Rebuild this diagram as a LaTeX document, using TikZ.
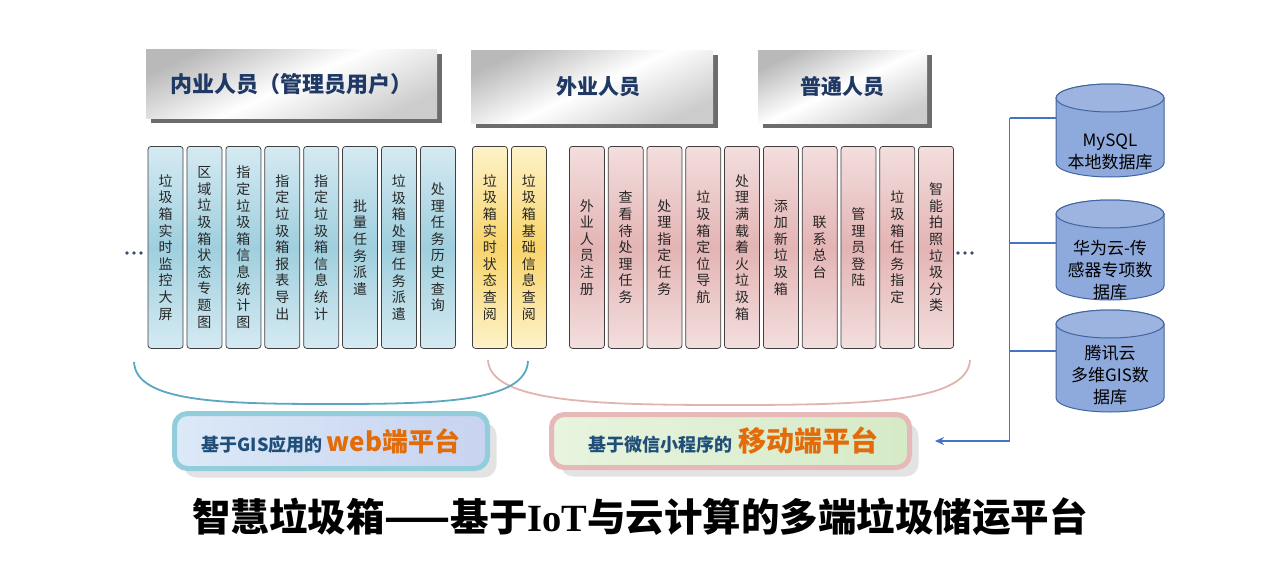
\documentclass[tikz,border=0pt]{standalone}
\usepackage{fontspec}
\setmainfont{Noto Sans CJK SC}
\newfontfamily\iotfont{Liberation Serif}
\usetikzlibrary{arrows.meta,shadows}
\definecolor{hdrtext}{HTML}{1F3864}
\definecolor{cbA}{HTML}{D5EAF2}
\definecolor{cbB}{HTML}{9FCFDE}
\definecolor{cyA}{HTML}{FDF2C8}
\definecolor{cyB}{HTML}{F8D46A}
\definecolor{cpA}{HTML}{F3DEDE}
\definecolor{cpB}{HTML}{E4B4B4}
\definecolor{arcblue}{HTML}{5BA6C0}
\definecolor{arcpink}{HTML}{E2B4B0}
\definecolor{webborder}{HTML}{92CDDC}
\definecolor{webA}{HTML}{DCE9F7}
\definecolor{webB}{HTML}{C7D3F0}
\definecolor{mobborder}{HTML}{E6B9B8}
\definecolor{mobA}{HTML}{E8F4DF}
\definecolor{mobB}{HTML}{D5EAC6}
\definecolor{navytxt}{HTML}{1F4E79}
\definecolor{orangetxt}{HTML}{E36C0A}
\definecolor{dbfill}{HTML}{8EA9DB}
\definecolor{dbtopfill}{HTML}{9DB4E0}
\definecolor{dbline}{HTML}{41659F}
\definecolor{connblue}{HTML}{4472C4}
\definecolor{dotc}{HTML}{3F4B6E}
\newcommand\mydb[4]{%
  \path[dbbody] (#2-54,#3+14) -- (#2-54,#4-14) arc[start angle=180,end angle=360,x radius=54pt,y radius=14pt] -- (#2+54,#3+14) arc[start angle=0,end angle=180,x radius=54pt,y radius=14pt] -- cycle;
  \path[dbtop] (#2,#3+14) ellipse[x radius=54pt, y radius=14pt];
  \node[inner sep=0pt, minimum width=108, minimum height=#4-#3] (#1) at (#2,{(#3+#4)/2}) {};
}
\begin{document}
\begin{tikzpicture}[x=1pt,y=-1pt,
  hdr/.style={anchor=north west, inner sep=0pt, top color=gray!55, bottom color=gray!40, middle color=white, shading angle=25, font=\fontsize{21}{21}\selectfont\bfseries, text=hdrtext, drop shadow={shadow xshift=5pt, shadow yshift=-5pt, fill=gray!85!black, opacity=1}},
  colbox/.style={anchor=north west, draw=black!75, line width=0.75pt, rounded corners=3pt, minimum width=35, minimum height=202, inner sep=0pt, align=center, font=\fontsize{14}{16.6}\selectfont, text=black!85},
  bcol/.style={colbox, top color=cbA, bottom color=cbA, middle color=cbB},
  ycol/.style={colbox, top color=cyA, bottom color=cyA, middle color=cyB},
  pcol/.style={colbox, top color=cpA, bottom color=cpA, middle color=cpB},
  plat/.style={line width=5pt, rounded corners=13pt, inner sep=0pt, drop shadow={shadow xshift=9pt, shadow yshift=-9pt, fill=gray!22, opacity=1}},
  dbbody/.style={fill=dbfill, draw=dbline, line width=1pt},
  dbtop/.style={fill=dbtopfill, draw=dbline, line width=1pt},
  dbtext/.style={align=center, font=\fontsize{17}{22}\selectfont, text=black, inner sep=0pt},
  conn/.style={draw=connblue, line width=1.8pt},
  arcline/.style={line width=1.8pt}
]
\useasboundingbox (0,0) rectangle (1277,586);
\fill[white] (0,0) rectangle (1277,586);

% header boxes
\node[hdr, minimum width=291, minimum height=69, font=\fontsize{22}{22}\selectfont\bfseries] (h1) at (146,49) {内业人员（管理员用户）};
\node[hdr, minimum width=242, minimum height=73] (h2) at (471,50) {\hspace{12pt}外业人员};
\node[hdr, minimum width=169, minimum height=73] (h3) at (758,50) {普通人员};

% arcs
\draw[arcline, draw=arcpink] (488,360) .. controls (490,403) and (600,405) .. (729,405) .. controls (860,405) and (968,403) .. (970,360);
\draw[arcline, draw=arcblue] (134,362) .. controls (136,402) and (220,404) .. (331,404) .. controls (440,404) and (526,402) .. (528,361);

% blue columns
\node[bcol] (b1) at (147.7,146) {垃\\圾\\箱\\实\\时\\监\\控\\大\\屏};
\node[bcol] (b2) at (186.6,146) {区\\域\\垃\\圾\\箱\\状\\态\\专\\题\\图};
\node[bcol] (b3) at (225.5,146) {指\\定\\垃\\圾\\箱\\信\\息\\统\\计\\图};
\node[bcol] (b4) at (264.4,146) {指\\定\\垃\\圾\\箱\\报\\表\\导\\出};
\node[bcol] (b5) at (303.3,146) {指\\定\\垃\\圾\\箱\\信\\息\\统\\计};
\node[bcol] (b6) at (342.2,146) {批\\量\\任\\务\\派\\遣};
\node[bcol] (b7) at (381.1,146) {垃\\圾\\箱\\处\\理\\任\\务\\派\\遣};
\node[bcol] (b8) at (420.0,146) {处\\理\\任\\务\\历\\史\\查\\询};
% yellow columns
\node[ycol] (y1) at (472,146) {垃\\圾\\箱\\实\\时\\状\\态\\查\\阅};
\node[ycol] (y2) at (511,146) {垃\\圾\\箱\\基\\础\\信\\息\\查\\阅};
% pink columns
\node[pcol] (p1) at (569.0,146) {外\\业\\人\\员\\注\\册};
\node[pcol] (p2) at (607.8,146) {查\\看\\待\\处\\理\\任\\务};
\node[pcol] (p3) at (646.6,146) {处\\理\\指\\定\\任\\务};
\node[pcol] (p4) at (685.4,146) {垃\\圾\\箱\\定\\位\\导\\航};
\node[pcol] (p5) at (724.2,146) {处\\理\\满\\载\\着\\火\\垃\\圾\\箱};
\node[pcol] (p6) at (763.0,146) {添\\加\\新\\垃\\圾\\箱};
\node[pcol] (p7) at (801.8,146) {联\\系\\总\\台};
\node[pcol] (p8) at (840.6,146) {管\\理\\员\\登\\陆};
\node[pcol] (p9) at (879.4,146) {垃\\圾\\箱\\任\\务\\指\\定};
\node[pcol] (p10) at (918.2,146) {智\\能\\拍\\照\\垃\\圾\\分\\类};

% dots
\foreach \i in {0,1,2} {
  \fill[dotc] (127+7*\i,253) circle[radius=1.8pt];
  \fill[dotc] (958+7*\i,253) circle[radius=1.8pt];
}

% platform boxes
\node[plat, draw=webborder, left color=webA, right color=webB, minimum width=313, minimum height=55] (web) at (331,441)
  {\bfseries{\fontsize{18}{18}\selectfont\color{navytxt}基于GIS应用的}\hspace{4pt}{\fontsize{26}{26}\selectfont\color{orangetxt}web端平台}\hspace{10pt}};
\node[plat, draw=mobborder, left color=mobA, right color=mobB, minimum width=358, minimum height=53] (mob) at (730.5,441)
  {\hspace{6pt}\bfseries{\fontsize{18}{18}\selectfont\color{navytxt}基于微信小程序的}\hspace{6pt}{\fontsize{28}{28}\selectfont\color{orangetxt}移动端平台}};

% databases
\mydb{db1}{1110}{84}{177}
\mydb{db2}{1110}{200}{300}
\mydb{db3}{1110}{310}{412}
\node[dbtext] (db1t) at (1110,152) {MySQL\\本地数据库};
\node[dbtext] (db2t) at (1110,270) {华为云-传\\感器专项数\\据库};
\node[dbtext] (db3t) at (1110,375) {腾讯云\\多维GIS数\\据库};

% connectors
\coordinate (jt) at (1009.5,118);
\coordinate (j2) at (1009.5,243);
\coordinate (j3) at (1009.5,351);
\coordinate (jb) at (1009.5,441);
\draw[conn] (jt) -- (jb);
\draw[conn] (jt) -- (jt -| db1.west);
\draw[conn] (j2) -- (j2 -| db2.west);
\draw[conn] (j3) -- (j3 -| db3.west);
\draw[conn, -{Stealth[length=9pt,width=8pt]}] (jb) -- ([xshift=23pt]mob.east);

% title
\node[font=\fontsize{38.5}{38.5}\selectfont\bfseries, text=black, inner sep=0pt] (title) at (640,517)
  {智慧垃圾箱——基于{\iotfont\bfseries IoT}与云计算的多端垃圾储运平台};
\end{tikzpicture}
\end{document}
